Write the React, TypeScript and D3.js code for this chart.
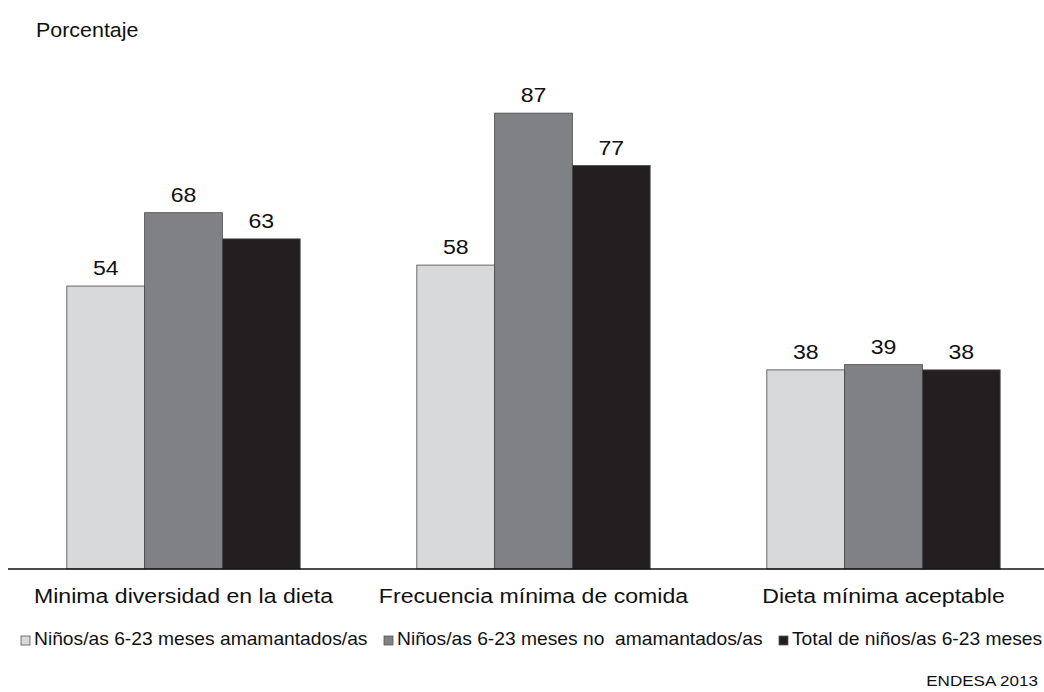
import React from "react";
import * as d3 from "d3";

const categories = ["Minima diversidad en la dieta", "Frecuencia mínima de comida", "Dieta mínima aceptable"];
const seriesNames = [
  "Niños/as 6-23 meses amamantados/as",
  "Niños/as 6-23 meses no  amamantados/as",
  "Total de niños/as 6-23 meses",
];
const amamantados = [54, 58, 38];
const noAmamantados = [68, 87, 39];
const total = [63, 77, 38];
const seriesValues = [amamantados, noAmamantados, total];
const colors = ["#d8d9db", "#808184", "#231f20"];
const legendX = [21, 384, 779];

const W = 1044;
const H = 692;
const SX = 1.1;

function T({ x, y, size, anchor = "start", children }: any) {
  return (
    <text
      transform={`translate(${x},${y}) scale(${SX},1)`}
      fontSize={size}
      textAnchor={anchor}
      fill="#111"
      style={{ whiteSpace: "pre" }}
    >
      {children}
    </text>
  );
}

export default function App() {
  const x0 = d3.scaleBand<string>().domain(categories).range([8.5, 1058.5]).paddingInner(0).paddingOuter(0);
  const x1 = d3
    .scaleBand<number>()
    .domain([0, 1, 2])
    .range([0, x0.bandwidth()])
    .paddingOuter(0.75)
    .paddingInner(0);
  const y = d3.scaleLinear().domain([0, 100]).range([569, 45]);
  const font = "'Liberation Sans', Arial, sans-serif";

  return (
    <svg width={W} height={H} style={{ position: "absolute", left: 0, top: 0 }} fontFamily={font}>
      <rect width={W} height={H} fill="#fff" />
      <T x={36} y={37} size={19.5}>Porcentaje</T>
      {categories.map((c, ci) =>
        seriesValues.map((vals, si) => {
          const bx = (x0(c) as number) + (x1(si) as number);
          const bw = x1.bandwidth();
          const v = vals[ci];
          return (
            <g key={c + si}>
              <rect
                x={bx}
                y={y(v)}
                width={bw}
                height={y(0) - y(v)}
                fill={colors[si]}
                stroke="#4a4a4a"
                strokeWidth={0.8}
              />
              <T x={bx + bw / 2} y={y(v) - 11} size={21} anchor="middle">
                {v}
              </T>
            </g>
          );
        })
      )}
      <line x1={8} x2={W} y1={569} y2={569} stroke="#111" strokeWidth={1.5} />
      {categories.map((c) => (
        <T key={c} x={(x0(c) as number) + x0.bandwidth() / 2} y={603} size={21} anchor="middle">
          {c}
        </T>
      ))}
      {seriesNames.map((n, i) => (
        <g key={n} transform={`translate(${legendX[i]},636)`}>
          <rect x={0} y={0} width={9} height={9} fill={colors[i]} stroke="#555" strokeWidth={0.8} />
          <T x={13} y={8.5} size={17.5}>
            {n}
          </T>
        </g>
      ))}
      <T x={1038} y={686} size={15.5} anchor="end">ENDESA 2013</T>
    </svg>
  );
}
